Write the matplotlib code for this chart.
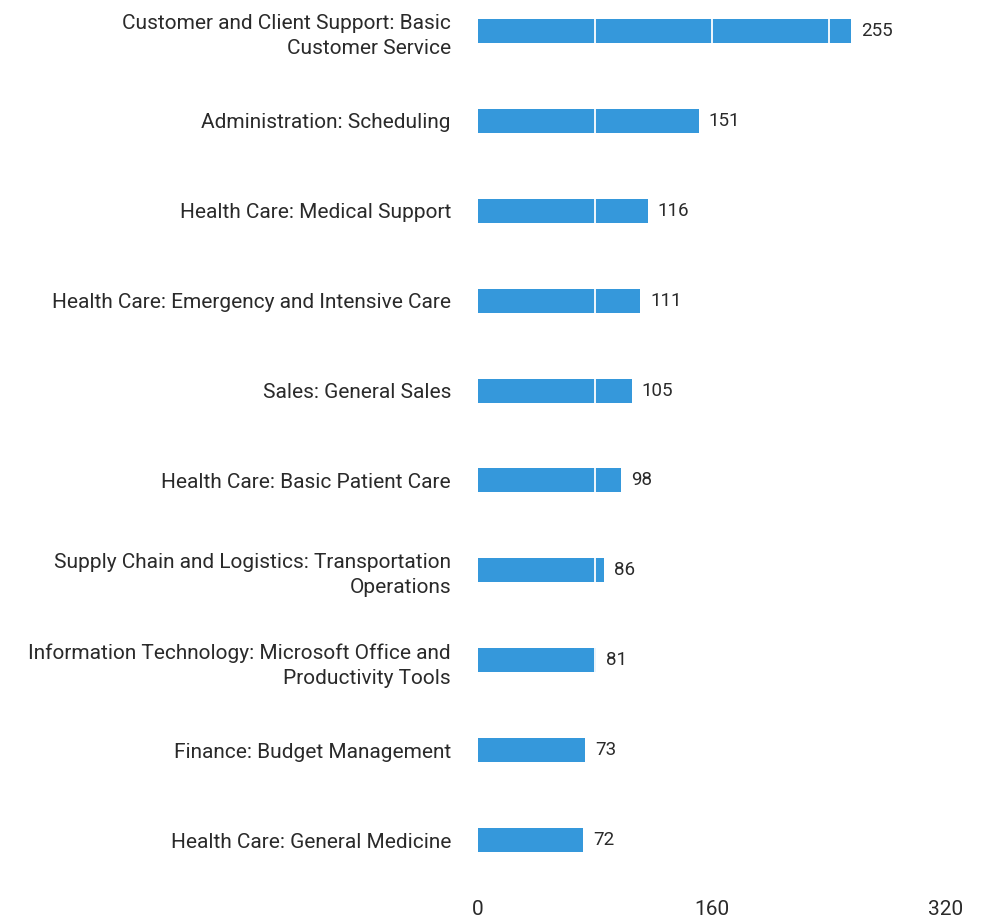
import matplotlib
matplotlib.use("Agg")
import matplotlib.pyplot as plt

categories = [
    "Customer and Client Support: Basic\nCustomer Service",
    "Administration: Scheduling",
    "Health Care: Medical Support",
    "Health Care: Emergency and Intensive Care",
    "Sales: General Sales",
    "Health Care: Basic Patient Care",
    "Supply Chain and Logistics: Transportation\nOperations",
    "Information Technology: Microsoft Office and\nProductivity Tools",
    "Finance: Budget Management",
    "Health Care: General Medicine",
]
values = [255, 151, 116, 111, 105, 98, 86, 81, 73, 72]
x_ticks = [0, 160, 320]
grid_lines = [80, 160, 240]

plt.rcParams['font.family'] = ['Roboto', 'DejaVu Sans']
W, H = 987, 924
fig = plt.figure(figsize=(W / 100, H / 100), dpi=100)
ax_left, ax_right = 478, 946
ax_top, ax_bottom = 0, 886
ax = fig.add_axes([ax_left / W, 1 - ax_bottom / H, (ax_right - ax_left) / W, (ax_bottom - ax_top) / H])

bar_color = "#3598DB"
text_color = "#2a2a2a"
y = list(range(len(categories)))
ax.barh(y, values, height=0.267, color=bar_color, zorder=1)
for g in grid_lines:
    ax.axvline(g, color="white", linewidth=1.3, zorder=2)

for yi, v in zip(y, values):
    ax.annotate(str(v), xy=(v, yi), xytext=(10, 0), textcoords="offset pixels",
                va="center", ha="left", fontsize=13.5, color=text_color)

ax.set_xlim(0, 320)
ax.set_ylim(9.511, -0.344)
ax.set_yticks(y)
ax.set_yticklabels(categories, fontsize=15, color=text_color, linespacing=1.4)
ax.set_xticks(x_ticks)
ax.set_xticklabels([str(t) for t in x_ticks], fontsize=15, color=text_color)
ax.tick_params(axis="y", length=0, pad=19.5)
ax.tick_params(axis="x", length=0, pad=10)
for s in ax.spines.values():
    s.set_visible(False)

fig.savefig("out.png", dpi=100, facecolor="white")
